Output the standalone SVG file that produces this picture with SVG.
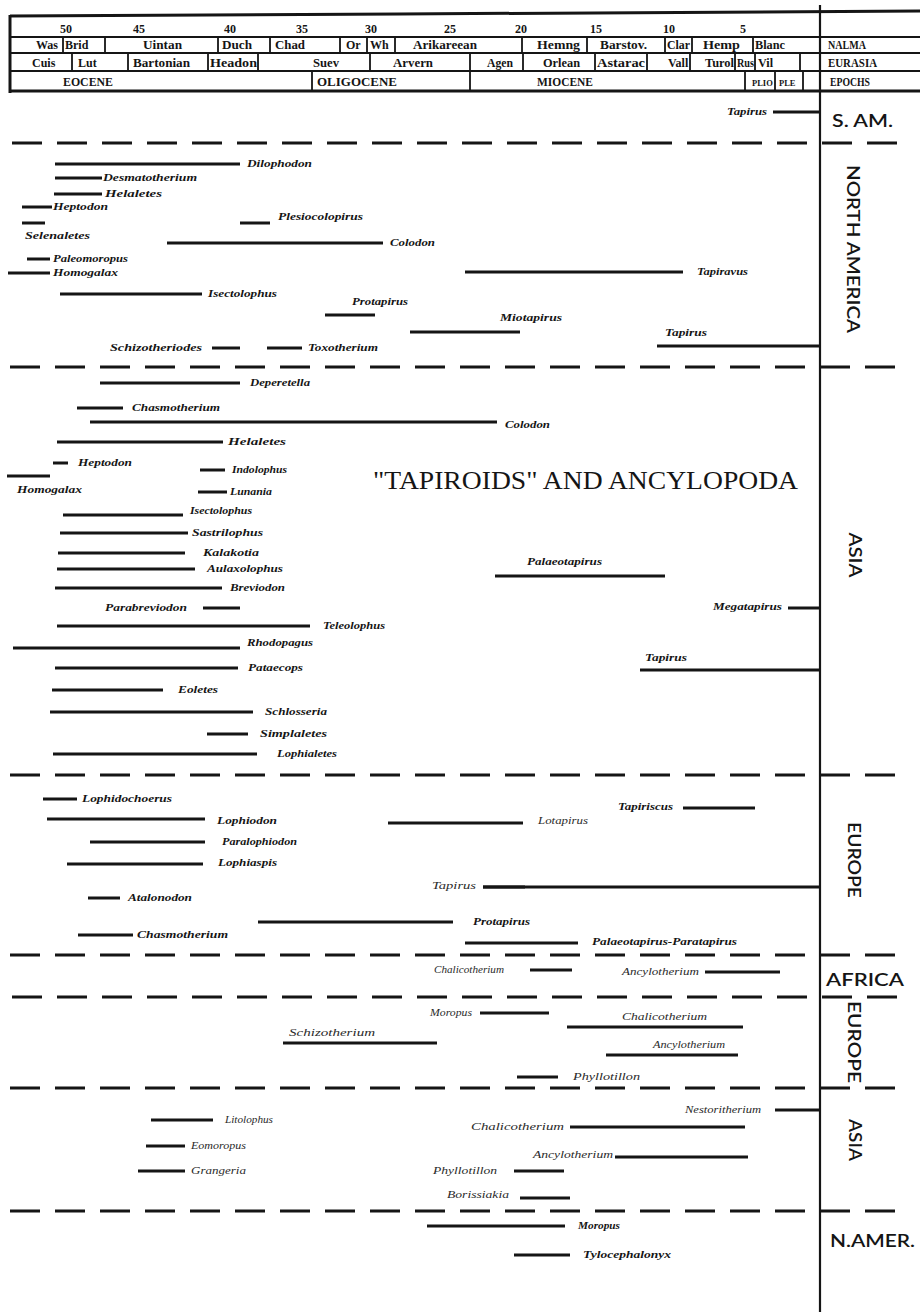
<svg xmlns="http://www.w3.org/2000/svg" width="920" height="1312" viewBox="0 0 920 1312">
<style>
  .ln{stroke:#151515;fill:none}
  .bar{stroke:#151515;stroke-width:3;fill:none}
  .sep{stroke:#151515;stroke-width:3;stroke-dasharray:30 15;fill:none}
  .hd{font-family:"Liberation Serif",serif;font-weight:bold;font-size:12px;fill:#151515}
  .tx{font-family:"Liberation Serif",serif;font-style:italic;font-weight:bold;font-size:10.5px;fill:#151515}
  .lt{font-weight:normal;fill:#2a2a2a}
  .rg{font-family:Lato,"Liberation Sans",sans-serif;font-weight:600;font-size:17px;fill:#151515}
  .ttl{font-family:"Liberation Serif",serif;font-size:25px;fill:#151515}
</style>

<!-- time scale header -->
<g id="timescale">
  <path class="ln" stroke-width="3" d="M10,16 L400,14 L920,11"/>
  <path class="ln" stroke-width="3" d="M10,15 V93"/>
  <path class="ln" stroke-width="2" d="M10,37 H920 M10,53 H920 M10,71 H920"/>
  <path class="ln" stroke-width="3" d="M10,91 H920"/>
  <!-- NALMA row dividers -->
  <path class="ln" stroke-width="1.8" d="M63,37V53 M105,37V53 M218,37V53 M270,37V53 M340,37V53 M367,37V53 M395,37V53 M522,37V53 M587,37V53 M665,37V53 M692,37V53 M753,37V53"/>
  <!-- Eurasian row dividers -->
  <path class="ln" stroke-width="1.8" d="M72,53V71 M128,53V71 M208,53V71 M258,53V71 M370,53V71 M470,53V71 M523,53V71 M595,53V71 M647,53V71 M690,53V71 M735,53V71 M755,53V71 M800,53V71"/>
  <!-- epoch row dividers -->
  <path class="ln" stroke-width="1.8" d="M312,71V91 M470,71V91 M745,71V91 M775,71V91 M803,71V91"/>
  <g class="hd" text-anchor="middle">
    <text x="66" y="33">50</text><text x="139" y="33">45</text><text x="230" y="33">40</text>
    <text x="302" y="33">35</text><text x="371" y="33">30</text><text x="450" y="33">25</text>
    <text x="521" y="33">20</text><text x="596" y="33">15</text><text x="669" y="33">10</text>
    <text x="743" y="33">5</text>
  </g>
  <g class="hd">
    <text x="36" y="49">Was</text>
    <text x="65" y="49">Brid</text>
    <text x="143" y="49" textLength="39" lengthAdjust="spacingAndGlyphs">Uintan</text>
    <text x="222" y="49" textLength="30" lengthAdjust="spacingAndGlyphs">Duch</text>
    <text x="275" y="49" textLength="30" lengthAdjust="spacingAndGlyphs">Chad</text>
    <text x="346" y="49">Or</text>
    <text x="370" y="49">Wh</text>
    <text x="413" y="49" textLength="64" lengthAdjust="spacingAndGlyphs">Arikareean</text>
    <text x="537" y="49" textLength="43" lengthAdjust="spacingAndGlyphs">Hemng</text>
    <text x="600" y="49" textLength="47" lengthAdjust="spacingAndGlyphs">Barstov.</text>
    <text x="667" y="49" textLength="23" lengthAdjust="spacingAndGlyphs">Clar</text>
    <text x="703" y="49" textLength="37" lengthAdjust="spacingAndGlyphs">Hemp</text>
    <text x="755" y="49" textLength="30" lengthAdjust="spacingAndGlyphs">Blanc</text>
    <text x="828" y="49" textLength="38" lengthAdjust="spacingAndGlyphs">NALMA</text>

    <text x="32" y="67">Cuis</text>
    <text x="78" y="67">Lut</text>
    <text x="133" y="67" textLength="57" lengthAdjust="spacingAndGlyphs">Bartonian</text>
    <text x="210" y="67" textLength="47" lengthAdjust="spacingAndGlyphs">Headon</text>
    <text x="313" y="67" textLength="26" lengthAdjust="spacingAndGlyphs">Suev</text>
    <text x="393" y="67" textLength="40" lengthAdjust="spacingAndGlyphs">Arvern</text>
    <text x="487" y="67" textLength="26" lengthAdjust="spacingAndGlyphs">Agen</text>
    <text x="543" y="67" textLength="37" lengthAdjust="spacingAndGlyphs">Orlean</text>
    <text x="597" y="67" textLength="48" lengthAdjust="spacingAndGlyphs">Astarac</text>
    <text x="668" y="67">Vall</text>
    <text x="705" y="67" textLength="29" lengthAdjust="spacingAndGlyphs">Turol</text>
    <text x="737" y="67" textLength="17" lengthAdjust="spacingAndGlyphs">Rus</text>
    <text x="758" y="67" textLength="15" lengthAdjust="spacingAndGlyphs">Vil</text>
    <text x="828" y="67" textLength="49" lengthAdjust="spacingAndGlyphs">EURASIA</text>

    <text x="63" y="86" textLength="50" lengthAdjust="spacingAndGlyphs">EOCENE</text>
    <text x="317" y="86" textLength="80" lengthAdjust="spacingAndGlyphs">OLIGOCENE</text>
    <text x="537" y="86" textLength="56" lengthAdjust="spacingAndGlyphs">MIOCENE</text>
    <text x="752" y="86" font-size="8.5">PLIO</text>
    <text x="779" y="86" font-size="8.5">PLE</text>
    <text x="830" y="86" textLength="40" lengthAdjust="spacingAndGlyphs">EPOCHS</text>
  </g>
</g>

<!-- region separators and the present-day axis -->
<g id="connectors">
  <path class="ln" stroke-width="2.2" d="M820,5 V1312"/>
  <path class="sep" d="M12,143 H910"/>
  <path class="sep" d="M10,367 H910"/>
  <path class="sep" d="M10,775 H910"/>
  <path class="sep" d="M10,955 H910"/>
  <path class="sep" d="M12,997 H910"/>
  <path class="sep" d="M10,1088 H910"/>
  <path class="sep" d="M10,1211 H910"/>
</g>

<!-- region names -->
<g id="regions" class="rg">
  <text x="832" y="127" textLength="61" lengthAdjust="spacingAndGlyphs">S. AM.</text>
  <text transform="translate(847,249) rotate(90)" text-anchor="middle" textLength="168" lengthAdjust="spacingAndGlyphs">NORTH AMERICA</text>
  <text transform="translate(849,555) rotate(90)" text-anchor="middle" textLength="45" lengthAdjust="spacingAndGlyphs">ASIA</text>
  <text transform="translate(848,860) rotate(90)" text-anchor="middle" textLength="76" lengthAdjust="spacingAndGlyphs">EUROPE</text>
  <text x="826" y="986" textLength="78" lengthAdjust="spacingAndGlyphs">AFRICA</text>
  <text transform="translate(848,1042) rotate(90)" text-anchor="middle" textLength="82" lengthAdjust="spacingAndGlyphs">EUROPE</text>
  <text transform="translate(849,1140) rotate(90)" text-anchor="middle" textLength="42" lengthAdjust="spacingAndGlyphs">ASIA</text>
  <text x="830" y="1247" textLength="85" lengthAdjust="spacingAndGlyphs">N.AMER.</text>
</g>

<text id="title" class="ttl" x="373" y="489" textLength="425" lengthAdjust="spacingAndGlyphs">"TAPIROIDS" AND ANCYLOPODA</text>

<!-- taxa: each range bar with its generic name -->
<g id="taxa">
<!-- South America -->
<g id="sam-tapirus"><path class="bar" d="M773,112H820"/><text class="tx" x="727" y="115" textLength="40" lengthAdjust="spacingAndGlyphs">Tapirus</text></g>

<!-- North America -->
<g id="na-dilophodon"><path class="bar" d="M55,164H240"/><text class="tx" x="247" y="167" textLength="65" lengthAdjust="spacingAndGlyphs">Dilophodon</text></g>
<g id="na-desmatotherium"><path class="bar" d="M55,178H102"/><text class="tx" x="103" y="181" textLength="94" lengthAdjust="spacingAndGlyphs">Desmatotherium</text></g>
<g id="na-helaletes"><path class="bar" d="M54,194H102"/><text class="tx" x="105" y="197" textLength="57" lengthAdjust="spacingAndGlyphs">Helaletes</text></g>
<g id="na-heptodon"><path class="bar" d="M22,207H52"/><text class="tx" x="53" y="210" textLength="55" lengthAdjust="spacingAndGlyphs">Heptodon</text></g>
<g id="na-selenaletes"><path class="bar" d="M22,223H45"/><text class="tx" x="25" y="239" textLength="65" lengthAdjust="spacingAndGlyphs">Selenaletes</text></g>
<g id="na-plesiocolopirus"><path class="bar" d="M240,223H270"/><text class="tx" x="278" y="220" font-size="12" textLength="85" lengthAdjust="spacingAndGlyphs">Plesiocolopirus</text></g>
<g id="na-colodon"><path class="bar" d="M167,243H383"/><text class="tx" x="390" y="246" textLength="45" lengthAdjust="spacingAndGlyphs">Colodon</text></g>
<g id="na-paleomoropus"><path class="bar" d="M27,259H50"/><text class="tx" x="53" y="262" textLength="75" lengthAdjust="spacingAndGlyphs">Paleomoropus</text></g>
<g id="na-homogalax"><path class="bar" d="M8,273H50"/><text class="tx" x="53" y="276" textLength="65" lengthAdjust="spacingAndGlyphs">Homogalax</text></g>
<g id="na-isectolophus"><path class="bar" d="M60,294H202"/><text class="tx" x="208" y="297" textLength="69" lengthAdjust="spacingAndGlyphs">Isectolophus</text></g>
<g id="na-protapirus"><path class="bar" d="M325,315H375"/><text class="tx" x="352" y="305" textLength="56" lengthAdjust="spacingAndGlyphs">Protapirus</text></g>
<g id="na-tapiravus"><path class="bar" d="M465,272H683"/><text class="tx" x="697" y="275" textLength="51" lengthAdjust="spacingAndGlyphs">Tapiravus</text></g>
<g id="na-miotapirus"><path class="bar" d="M410,332H520"/><text class="tx" x="500" y="321" textLength="62" lengthAdjust="spacingAndGlyphs">Miotapirus</text></g>
<g id="na-tapirus"><path class="bar" d="M657,346H820"/><text class="tx" x="665" y="336" textLength="42" lengthAdjust="spacingAndGlyphs">Tapirus</text></g>
<g id="na-schizotheriodes"><path class="bar" d="M212,348H240"/><text class="tx" x="110" y="351" textLength="92" lengthAdjust="spacingAndGlyphs">Schizotheriodes</text></g>
<g id="na-toxotherium"><path class="bar" d="M267,348H302"/><text class="tx" x="308" y="351" textLength="70" lengthAdjust="spacingAndGlyphs">Toxotherium</text></g>

<!-- Asia -->
<g id="as-deperetella"><path class="bar" d="M100,383H240"/><text class="tx" x="250" y="386" textLength="60" lengthAdjust="spacingAndGlyphs">Deperetella</text></g>
<g id="as-chasmotherium"><path class="bar" d="M77,408H123"/><text class="tx" x="132" y="411" textLength="88" lengthAdjust="spacingAndGlyphs">Chasmotherium</text></g>
<g id="as-colodon"><path class="bar" d="M90,422H497"/><text class="tx" x="505" y="428" textLength="45" lengthAdjust="spacingAndGlyphs">Colodon</text></g>
<g id="as-helaletes"><path class="bar" d="M57,442H223"/><text class="tx" x="228" y="445" textLength="58" lengthAdjust="spacingAndGlyphs">Helaletes</text></g>
<g id="as-heptodon"><path class="bar" d="M53,463H68"/><text class="tx" x="78" y="466" textLength="54" lengthAdjust="spacingAndGlyphs">Heptodon</text></g>
<g id="as-homogalax"><path class="bar" d="M7,476H50"/><text class="tx" x="17" y="493" textLength="65" lengthAdjust="spacingAndGlyphs">Homogalax</text></g>
<g id="as-indolophus"><path class="bar" d="M200,470H225"/><text class="tx" x="232" y="473" textLength="55" lengthAdjust="spacingAndGlyphs">Indolophus</text></g>
<g id="as-lunania"><path class="bar" d="M198,492H227"/><text class="tx" x="230" y="495" textLength="42" lengthAdjust="spacingAndGlyphs">Lunania</text></g>
<g id="as-isectolophus"><path class="bar" d="M63,515H183"/><text class="tx" x="190" y="514" textLength="62" lengthAdjust="spacingAndGlyphs">Isectolophus</text></g>
<g id="as-sastrilophus"><path class="bar" d="M60,533H188"/><text class="tx" x="192" y="536" textLength="71" lengthAdjust="spacingAndGlyphs">Sastrilophus</text></g>
<g id="as-kalakotia"><path class="bar" d="M58,553H185"/><text class="tx" x="203" y="556" textLength="56" lengthAdjust="spacingAndGlyphs">Kalakotia</text></g>
<g id="as-aulaxolophus"><path class="bar" d="M57,569H195"/><text class="tx" x="207" y="572" textLength="76" lengthAdjust="spacingAndGlyphs">Aulaxolophus</text></g>
<g id="as-breviodon"><path class="bar" d="M55,588H222"/><text class="tx" x="230" y="591" textLength="55" lengthAdjust="spacingAndGlyphs">Breviodon</text></g>
<g id="as-parabreviodon"><path class="bar" d="M203,608H240"/><text class="tx" x="105" y="611" textLength="82" lengthAdjust="spacingAndGlyphs">Parabreviodon</text></g>
<g id="as-teleolophus"><path class="bar" d="M57,626H310"/><text class="tx" x="323" y="629" textLength="62" lengthAdjust="spacingAndGlyphs">Teleolophus</text></g>
<g id="as-rhodopagus"><path class="bar" d="M13,648H240"/><text class="tx" x="247" y="646" textLength="66" lengthAdjust="spacingAndGlyphs">Rhodopagus</text></g>
<g id="as-pataecops"><path class="bar" d="M55,668H238"/><text class="tx" x="248" y="671" textLength="55" lengthAdjust="spacingAndGlyphs">Pataecops</text></g>
<g id="as-eoletes"><path class="bar" d="M52,690H163"/><text class="tx" x="178" y="693" textLength="40" lengthAdjust="spacingAndGlyphs">Eoletes</text></g>
<g id="as-schlosseria"><path class="bar" d="M50,712H253"/><text class="tx" x="265" y="715" textLength="62" lengthAdjust="spacingAndGlyphs">Schlosseria</text></g>
<g id="as-simplaletes"><path class="bar" d="M207,734H248"/><text class="tx" x="260" y="737" textLength="67" lengthAdjust="spacingAndGlyphs">Simplaletes</text></g>
<g id="as-lophialetes"><path class="bar" d="M53,754H257"/><text class="tx" x="277" y="757" textLength="60" lengthAdjust="spacingAndGlyphs">Lophialetes</text></g>
<g id="as-palaeotapirus"><path class="bar" d="M495,576H665"/><text class="tx" x="527" y="565" textLength="75" lengthAdjust="spacingAndGlyphs">Palaeotapirus</text></g>
<g id="as-megatapirus"><path class="bar" d="M788,608H820"/><text class="tx" x="713" y="610" textLength="69" lengthAdjust="spacingAndGlyphs">Megatapirus</text></g>
<g id="as-tapirus"><path class="bar" d="M640,670H820"/><text class="tx" x="645" y="661" textLength="42" lengthAdjust="spacingAndGlyphs">Tapirus</text></g>

<!-- Europe -->
<g id="eu-lophidochoerus"><path class="bar" d="M43,799H77"/><text class="tx" x="82" y="802" textLength="90" lengthAdjust="spacingAndGlyphs">Lophidochoerus</text></g>
<g id="eu-lophiodon"><path class="bar" d="M47,819H205"/><text class="tx" x="217" y="824" textLength="60" lengthAdjust="spacingAndGlyphs">Lophiodon</text></g>
<g id="eu-paralophiodon"><path class="bar" d="M90,842H205"/><text class="tx" x="222" y="845" textLength="75" lengthAdjust="spacingAndGlyphs">Paralophiodon</text></g>
<g id="eu-lophiaspis"><path class="bar" d="M67,864H203"/><text class="tx" x="218" y="866" textLength="59" lengthAdjust="spacingAndGlyphs">Lophiaspis</text></g>
<g id="eu-atalonodon"><path class="bar" d="M88,898H120"/><text class="tx" x="128" y="901" textLength="64" lengthAdjust="spacingAndGlyphs">Atalonodon</text></g>
<g id="eu-chasmotherium"><path class="bar" d="M78,935H133"/><text class="tx" x="137" y="938" textLength="91" lengthAdjust="spacingAndGlyphs">Chasmotherium</text></g>
<g id="eu-lotapirus"><path class="bar" d="M388,823H523"/><text class="tx lt" x="538" y="824" textLength="50" lengthAdjust="spacingAndGlyphs">Lotapirus</text></g>
<g id="eu-tapiriscus"><path class="bar" d="M683,808H755"/><text class="tx" x="618" y="810" textLength="55" lengthAdjust="spacingAndGlyphs">Tapiriscus</text></g>
<g id="eu-tapirus"><path class="bar" d="M483,887H820"/><path class="bar" stroke-width="4.5" d="M483,887H525"/><text class="tx lt" x="432" y="889" textLength="44" lengthAdjust="spacingAndGlyphs">Tapirus</text></g>
<g id="eu-protapirus"><path class="bar" d="M258,922H453"/><text class="tx" x="473" y="925" textLength="57" lengthAdjust="spacingAndGlyphs">Protapirus</text></g>
<g id="eu-palaeotapirus-paratapirus"><path class="bar" d="M465,943H578"/><text class="tx" x="592" y="945" textLength="145" lengthAdjust="spacingAndGlyphs">Palaeotapirus-Paratapirus</text></g>

<!-- Africa -->
<g id="af-chalicotherium"><path class="bar" d="M530,970H572"/><text class="tx lt" x="434" y="973" textLength="70" lengthAdjust="spacingAndGlyphs">Chalicotherium</text></g>
<g id="af-ancylotherium"><path class="bar" d="M705,972H780"/><text class="tx lt" x="622" y="975" textLength="77" lengthAdjust="spacingAndGlyphs">Ancylotherium</text></g>

<!-- Europe, chalicotheres -->
<g id="eu-moropus"><path class="bar" d="M480,1013H549"/><text class="tx lt" x="430" y="1016" textLength="42" lengthAdjust="spacingAndGlyphs">Moropus</text></g>
<g id="eu-chalicotherium"><path class="bar" d="M567,1027H743"/><text class="tx lt" x="622" y="1020" textLength="85" lengthAdjust="spacingAndGlyphs">Chalicotherium</text></g>
<g id="eu-schizotherium"><path class="bar" d="M283,1043H437"/><text class="tx lt" x="289" y="1036" textLength="86" lengthAdjust="spacingAndGlyphs">Schizotherium</text></g>
<g id="eu-ancylotherium"><path class="bar" d="M606,1055H738"/><text class="tx lt" x="653" y="1048" textLength="72" lengthAdjust="spacingAndGlyphs">Ancylotherium</text></g>
<g id="eu-phyllotillon"><path class="bar" d="M517,1077H558"/><text class="tx lt" x="573" y="1080" textLength="67" lengthAdjust="spacingAndGlyphs">Phyllotillon</text></g>

<!-- Asia, chalicotheres -->
<g id="as-nestoritherium"><path class="bar" d="M775,1110H820"/><text class="tx lt" x="685" y="1113" textLength="76" lengthAdjust="spacingAndGlyphs">Nestoritherium</text></g>
<g id="as-litolophus"><path class="bar" d="M151,1120H213"/><text class="tx lt" x="225" y="1123" textLength="48" lengthAdjust="spacingAndGlyphs">Litolophus</text></g>
<g id="as-eomoropus"><path class="bar" d="M146,1146H185"/><text class="tx lt" x="191" y="1149" textLength="55" lengthAdjust="spacingAndGlyphs">Eomoropus</text></g>
<g id="as-grangeria"><path class="bar" d="M138,1171H185"/><text class="tx lt" x="191" y="1174" textLength="55" lengthAdjust="spacingAndGlyphs">Grangeria</text></g>
<g id="as-chalicotherium"><path class="bar" d="M570,1127H745"/><text class="tx lt" x="471" y="1130" textLength="93" lengthAdjust="spacingAndGlyphs">Chalicotherium</text></g>
<g id="as-ancylotherium"><path class="bar" d="M615,1157H748"/><text class="tx lt" x="533" y="1158" textLength="80" lengthAdjust="spacingAndGlyphs">Ancylotherium</text></g>
<g id="as-phyllotillon"><path class="bar" d="M514,1171H564"/><text class="tx lt" x="433" y="1174" textLength="64" lengthAdjust="spacingAndGlyphs">Phyllotillon</text></g>
<g id="as-borissiakia"><path class="bar" d="M520,1198H570"/><text class="tx lt" x="447" y="1198" textLength="62" lengthAdjust="spacingAndGlyphs">Borissiakia</text></g>

<!-- North America, chalicotheres -->
<g id="nam-moropus"><path class="bar" d="M427,1226H565"/><text class="tx" x="578" y="1229" textLength="42" lengthAdjust="spacingAndGlyphs">Moropus</text></g>
<g id="nam-tylocephalonyx"><path class="bar" d="M514,1255H570"/><text class="tx" x="583" y="1258" textLength="88" lengthAdjust="spacingAndGlyphs">Tylocephalonyx</text></g>
</g>
</svg>
